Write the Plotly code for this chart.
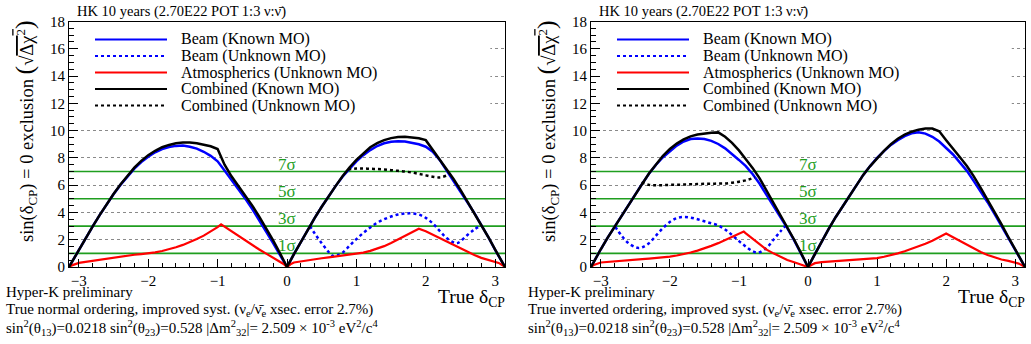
import plotly.graph_objects as go

# ---------------- data ----------------
DELTA = [-3.1416, -3.1, -3.0, -2.9, -2.8, -2.7, -2.6, -2.5, -2.4, -2.3, -2.2, -2.1, -2.0,
         -1.9, -1.8, -1.7, -1.6, -1.5, -1.4, -1.3, -1.2, -1.1, -1.0, -0.9, -0.8, -0.7,
         -0.6, -0.5, -0.4, -0.3, -0.2, -0.1, 0.0, 0.1, 0.2, 0.3, 0.4, 0.5, 0.6, 0.7, 0.8,
         0.9, 1.0, 1.1, 1.2, 1.3, 1.4, 1.5, 1.6, 1.7, 1.8, 1.9, 2.0, 2.1, 2.2, 2.3, 2.4,
         2.5, 2.6, 2.7, 2.8, 2.9, 3.0, 3.1, 3.1416]

beam_known_no = [0, 0.37, 1.26, 2.1, 2.98, 3.8, 4.59, 5.33, 6.02, 6.65, 7.21, 7.69, 8.09,
                 8.41, 8.65, 8.8, 8.88, 8.9, 8.82, 8.68, 8.45, 8.15, 7.75, 7.08, 6.4, 5.72,
                 5.0, 4.25, 3.45, 2.62, 1.76, 0.88, 0.0, 0.95, 1.85, 2.75, 3.6, 4.42, 5.2, 5.93, 6.62,
                 7.2, 7.74, 8.2, 8.57, 8.87, 9.07, 9.18, 9.22, 9.2, 9.12, 9.0, 8.82, 8.45, 7.85, 7.05, 6.3,
                 5.55, 4.75, 3.95, 3.1, 2.2, 1.25, 0.36, 0]
comb_known_no = [0, 0.37, 1.26, 2.1, 2.98, 3.8, 4.6, 5.35, 6.05, 6.7, 7.28, 7.78, 8.2,
                 8.52, 8.78, 8.95, 9.07, 9.12, 9.13, 9.08, 8.98, 8.85, 8.65, 7.5, 6.65, 5.95,
                 5.25, 4.5, 3.7, 2.85, 1.95, 1.0, 0.0, 0.95, 1.85, 2.75, 3.6, 4.42, 5.2, 5.93, 6.65,
                 7.3, 7.85, 8.35, 8.78, 9.08, 9.3, 9.45, 9.53, 9.55, 9.52, 9.44, 9.3, 8.6, 7.9, 7.2, 6.45,
                 5.65, 4.8, 3.95, 3.1, 2.2, 1.27, 0.38, 0]
atm_no_x = [-3.1416, -3.1, -3.0, -2.9, -2.8, -2.7, -2.6, -2.5, -2.4, -2.3, -2.2, -2.1, -2.0,
            -1.9, -1.8, -1.7, -1.6, -1.5, -1.4, -1.3, -1.2, -1.1, -1.0, -0.95, -0.9, -0.8, -0.7,
            -0.6, -0.5, -0.4, -0.3, -0.2, -0.1, -0.05, 0.0, 0.05, 0.1, 0.2, 0.3, 0.4, 0.5, 0.6,
            0.7, 0.8, 0.9, 1.0, 1.1, 1.2, 1.3, 1.4, 1.5, 1.6, 1.7, 1.8, 1.9, 2.0, 2.1, 2.2, 2.3,
            2.4, 2.5, 2.6, 2.7, 2.8, 2.9, 3.0, 3.05, 3.1, 3.1416]
atm_no = [0, 0.12, 0.3, 0.38, 0.46, 0.54, 0.62, 0.7, 0.77, 0.84, 0.9, 0.95, 1.0,
          1.07, 1.17, 1.3, 1.45, 1.62, 1.82, 2.05, 2.3, 2.58, 2.92, 3.12, 2.95, 2.6, 2.25,
          1.9, 1.58, 1.28, 0.98, 0.7, 0.42, 0.22, 0.0, 0.2, 0.33, 0.42, 0.5, 0.57, 0.64, 0.7,
          0.76, 0.82, 0.88, 0.95, 1.05, 1.18, 1.34, 1.53, 1.76, 2.02, 2.28, 2.55, 2.8, 2.62, 2.37, 2.1, 1.85,
          1.6, 1.35, 1.1, 0.88, 0.67, 0.5, 0.38, 0.3, 0.15, 0]
beam_unk_no_x = [0.33, 0.4, 0.5, 0.6, 0.66, 0.72, 0.8, 0.9, 1.0, 1.1, 1.2, 1.3, 1.4, 1.5, 1.6,
                 1.7, 1.8, 1.9, 2.0, 2.1, 2.2, 2.3, 2.4, 2.45, 2.5, 2.6, 2.7, 2.78]
beam_unk_no = [3.0, 2.45, 1.75, 1.1, 0.82, 0.84, 1.05, 1.55, 2.05, 2.5, 2.9, 3.25, 3.5, 3.7, 3.85,
               3.92, 3.93, 3.85, 3.6, 3.2, 2.65, 2.12, 1.8, 1.75, 1.88, 2.35, 2.75, 3.0]
comb_unk_no_x = [0.88, 1.0, 1.1, 1.2, 1.3, 1.4, 1.5, 1.6, 1.7, 1.8, 1.9, 2.0, 2.1, 2.2, 2.3]
comb_unk_no = [7.15, 7.22, 7.22, 7.2, 7.18, 7.15, 7.1, 7.05, 7.0, 6.93, 6.83, 6.72, 6.62, 6.57, 6.7]

beam_known_io = [0, 0.4, 1.3, 2.15, 2.95, 3.75, 4.6, 5.35, 6.1, 6.85, 7.5, 8.05, 8.5,
                 8.9, 9.2, 9.38, 9.43, 9.38, 9.25, 9.02, 8.7, 8.3, 7.85, 7.4, 6.8, 6.1,
                 5.3, 4.5, 3.65, 2.85, 1.95, 1.0, 0.0, 0.95, 1.9, 2.8, 3.65, 4.45, 5.25, 6.0, 6.75,
                 7.4, 8.0, 8.5, 8.95, 9.3, 9.6, 9.8, 9.87, 9.78, 9.55, 9.2, 8.75, 8.25, 7.65, 7.05, 6.3,
                 5.55, 4.75, 3.9, 3.05, 2.15, 1.25, 0.38, 0]
comb_known_io = [0, 0.4, 1.3, 2.15, 2.95, 3.75, 4.6, 5.35, 6.1, 6.87, 7.55, 8.15, 8.65,
                 9.05, 9.35, 9.58, 9.72, 9.8, 9.85, 9.87, 9.55, 9.1, 8.55, 7.9, 7.25, 6.5,
                 5.6, 4.7, 3.85, 3.0, 2.0, 1.02, 0.0, 0.95, 1.9, 2.8, 3.65, 4.45, 5.25, 6.0, 6.75,
                 7.4, 8.0, 8.52, 9.0, 9.4, 9.7, 9.92, 10.07, 10.15, 10.15, 9.95, 9.3, 8.7, 8.05, 7.4, 6.65,
                 5.8, 4.95, 4.05, 3.15, 2.2, 1.27, 0.4, 0]
atm_io_x = [-3.1416, -3.1, -3.0, -2.9, -2.8, -2.7, -2.6, -2.5, -2.4, -2.3, -2.2, -2.1, -2.0,
            -1.9, -1.8, -1.7, -1.6, -1.5, -1.4, -1.3, -1.2, -1.1, -1.0, -0.93, -0.9, -0.8, -0.7,
            -0.6, -0.5, -0.4, -0.3, -0.2, -0.1, -0.05, 0.0, 0.05, 0.1, 0.2, 0.3, 0.4, 0.5, 0.6,
            0.7, 0.8, 0.9, 1.0, 1.1, 1.2, 1.3, 1.4, 1.5, 1.6, 1.7, 1.8, 1.9, 2.0, 2.1, 2.2, 2.3,
            2.4, 2.5, 2.6, 2.7, 2.8, 2.9, 3.0, 3.05, 3.1, 3.1416]
atm_io = [0, 0.15, 0.33, 0.38, 0.42, 0.45, 0.5, 0.54, 0.58, 0.62, 0.66, 0.7, 0.76,
          0.84, 0.94, 1.06, 1.2, 1.36, 1.55, 1.75, 1.97, 2.2, 2.45, 2.6, 2.47, 2.05, 1.62,
          1.27, 1.0, 0.75, 0.51, 0.35, 0.2, 0.12, 0.0, 0.15, 0.28, 0.36, 0.4, 0.43, 0.46, 0.5,
          0.53, 0.56, 0.6, 0.65, 0.75, 0.86, 1.0, 1.15, 1.32, 1.5, 1.7, 1.93, 2.18, 2.46, 2.18, 1.9, 1.62,
          1.35, 1.1, 0.88, 0.7, 0.55, 0.45, 0.35, 0.25, 0.12, 0]
beam_unk_io_x = [-2.79, -2.7, -2.6, -2.5, -2.45, -2.4, -2.3, -2.2, -2.1, -2.0, -1.9, -1.8, -1.7,
                 -1.6, -1.5, -1.4, -1.3, -1.2, -1.1, -1.0, -0.9, -0.8, -0.72, -0.6, -0.5, -0.4, -0.33]
beam_unk_io = [2.95, 2.3, 1.75, 1.45, 1.4, 1.45, 1.75, 2.3, 2.85, 3.3, 3.58, 3.67, 3.62,
               3.5, 3.35, 3.2, 3.05, 2.75, 2.35, 1.9, 1.5, 1.15, 1.05, 1.4, 2.0, 2.6, 3.0]
comb_unk_io_x = [-2.41, -2.3, -2.2, -2.1, -2.0, -1.9, -1.8, -1.7, -1.6, -1.5, -1.4, -1.3, -1.2,
                 -1.1, -1.0, -0.9, -0.77]
comb_unk_io = [6.2, 6.02, 6.0, 6.0, 6.02, 6.03, 6.05, 6.07, 6.08, 6.1, 6.1, 6.12, 6.13,
               6.18, 6.25, 6.35, 6.57]

SIGMA_LEVELS = [1, 3, 5, 7]
SIGMA_LABELS = ["1σ", "3σ", "5σ", "7σ"]
Y_TICKS = [0, 2, 4, 6, 8, 10, 12, 14, 16, 18]
X_TICKS = [-3, -2, -1, 0, 1, 2, 3]
LEGEND_LABELS = ["Beam (Known MO)", "Beam (Unknown MO)", "Atmospherics (Unknown MO)",
                 "Combined (Known MO)", "Combined (Unknown MO)"]
TITLE = "HK 10 years (2.70E22 POT 1:3 ν:ν\u0304)"
ORDERING = ["True normal ordering", "True inverted ordering"]

# ---------------- figure ----------------
W, H = 1031, 344
PI = 3.1416
BLUE, RED, BLACK, GREEN = "#0000ff", "#ff0000", "#000000", "#1f9e1f"
FONT = "Liberation Serif"

def px(x):
    return x / W

def py(y):
    return (H - y) / H

fig = go.Figure()

panels = [
    dict(xa="x", ya="y", left=69, right=505, data=(beam_known_no, beam_unk_no_x, beam_unk_no,
         atm_no_x, atm_no, comb_known_no, comb_unk_no_x, comb_unk_no), order=ORDERING[0]),
    dict(xa="x2", ya="y2", left=591, right=1025, data=(beam_known_io, beam_unk_io_x, beam_unk_io,
         atm_io_x, atm_io, comb_known_io, comb_unk_io_x, comb_unk_io), order=ORDERING[1]),
]

annotations = []
shapes = []

for i, p in enumerate(panels):
    bk, bux, bu, ax_, at, ck, cux, cu = p["data"]
    xa, ya = p["xa"], p["ya"]
    for lev in SIGMA_LEVELS:
        fig.add_trace(go.Scatter(x=[-PI, PI], y=[lev, lev], mode="lines",
                                 line=dict(color=GREEN, width=1.6), xaxis=xa, yaxis=ya,
                                 showlegend=False, hoverinfo="skip"))
    fig.add_trace(go.Scatter(x=DELTA, y=bk, mode="lines", line=dict(color=BLUE, width=2.5),
                             xaxis=xa, yaxis=ya, showlegend=False))
    fig.add_trace(go.Scatter(x=bux, y=bu, mode="lines", line=dict(color=BLUE, width=2.5, dash="dot", shape="spline"),
                             xaxis=xa, yaxis=ya, showlegend=False))
    fig.add_trace(go.Scatter(x=ax_, y=at, mode="lines", line=dict(color=RED, width=2.2),
                             xaxis=xa, yaxis=ya, showlegend=False))
    fig.add_trace(go.Scatter(x=DELTA, y=ck, mode="lines", line=dict(color=BLACK, width=2.5),
                             xaxis=xa, yaxis=ya, showlegend=False))
    fig.add_trace(go.Scatter(x=cux, y=cu, mode="lines", line=dict(color=BLACK, width=2.5, dash="dot", shape="spline"),
                             xaxis=xa, yaxis=ya, showlegend=False))

    for lev, lab in zip(SIGMA_LEVELS, SIGMA_LABELS):
        annotations.append(dict(x=0, y=lev, xref=xa, yref=ya, text=lab, showarrow=False,
                                xanchor="center", yanchor="bottom", yshift=-3, borderpad=0,
                                font=dict(family=FONT, size=17, color=GREEN)))

    shapes.append(dict(type="rect", xref=xa, yref=ya, x0=-3.13, x1=2.93 if i == 0 else 2.95,
                       y0=10.8, y1=17.95, fillcolor="white", line=dict(width=0), layer="between"))
    L = p["left"]
    styles = [(BLUE, None), (BLUE, "dot"), (RED, None), (BLACK, None), (BLACK, "dot")]
    rows = [39.5, 56, 72.5, 89, 105.5]
    for (col, dash), lab, ry in zip(styles, LEGEND_LABELS, rows):
        shapes.append(dict(type="line", xref="paper", yref="paper", x0=px(L + 26), x1=px(L + 98),
                           y0=py(ry), y1=py(ry), line=dict(color=col, width=2.2, dash=dash or "solid"),
                           layer="above"))
        annotations.append(dict(x=px(L + 111), y=py(ry), xref="paper", yref="paper", text=lab,
                                showarrow=False, xanchor="left", yanchor="middle", borderpad=0,
                                font=dict(family=FONT, size=16, color="black")))
    annotations.append(dict(x=px(L + 7), y=py(12), xref="paper", yref="paper", text=TITLE,
                            showarrow=False, xanchor="left", yanchor="middle", borderpad=0,
                            font=dict(family=FONT, size=14.5, color="black")))
    ytitle = ("sin(δ<sub>CP</sub>) = 0 exclusion <span style='font-size:26px'>(</span>"
              "√<span style='text-decoration:overline'>Δχ<sup>2</sup></span>"
              "<span style='font-size:26px'>)</span>")
    annotations.append(dict(x=px(L - 44), y=py(131), xref="paper", yref="paper", text=ytitle,
                            showarrow=False, textangle=-90, xanchor="center", yanchor="middle",
                            font=dict(family=FONT, size=18.5, color="black")))
    annotations.append(dict(x=px(p["right"] + 1), y=py(298), xref="paper", yref="paper",
                            text="True δ<sub>CP</sub>", showarrow=False, xanchor="right",
                            yanchor="middle", borderpad=0, font=dict(family=FONT, size=19.5, color="black")))
    lines = ["Hyper-K preliminary",
             p["order"] + ", improved syst. (ν<sub>e</sub>/ν\u0304<sub>e</sub> xsec. error 2.7%)",
             "sin<sup>2</sup>(θ<sub>13</sub>)=0.0218 sin<sup>2</sup>(θ<sub>23</sub>)=0.528 "
             "|Δm<sup>2</sup><sub>32</sub>|= 2.509 × 10<sup>-3</sup> eV<sup>2</sup>/c<sup>4</sup>"]
    for t, yy in zip(lines, [292, 309.5, 327.5]):
        annotations.append(dict(x=px(L - 64), y=py(yy), xref="paper", yref="paper", text=t,
                                showarrow=False, xanchor="left", yanchor="middle", borderpad=0,
                                font=dict(family=FONT, size=15, color="black")))

axis_common = dict(showline=True, linecolor="black", linewidth=1, mirror=True, zeroline=False,
                   ticks="inside", tickcolor="black", automargin=False,
                   tickfont=dict(family=FONT, size=15, color="black"))
xcfg = dict(axis_common, range=[-PI, PI], tickvals=X_TICKS, ticklen=8, showgrid=False,
            minor=dict(ticks="inside", ticklen=4, dtick=0.2, tick0=0, tickcolor="black", showgrid=False))
ycfg = dict(axis_common, range=[0, 18], tickvals=Y_TICKS, ticklen=9, showgrid=True,
            gridcolor="#8a8a8a", griddash="dot", gridwidth=1,
            minor=dict(ticks="inside", ticklen=5, dtick=0.5, tick0=0, tickcolor="black", showgrid=False))

ydom = [py(267), py(21.5)]
fig.update_layout(
    width=W, height=H, autosize=False, margin=dict(l=0, r=0, t=0, b=0, pad=0),
    paper_bgcolor="white", plot_bgcolor="white", showlegend=False,
    xaxis=dict(xcfg, domain=[px(69), px(505)], anchor="y"),
    yaxis=dict(ycfg, domain=ydom, anchor="x"),
    xaxis2=dict(xcfg, domain=[px(591), px(1025)], anchor="y2"),
    yaxis2=dict(ycfg, domain=ydom, anchor="x2"),
    annotations=annotations, shapes=shapes,
)

fig.write_html("out.html")
